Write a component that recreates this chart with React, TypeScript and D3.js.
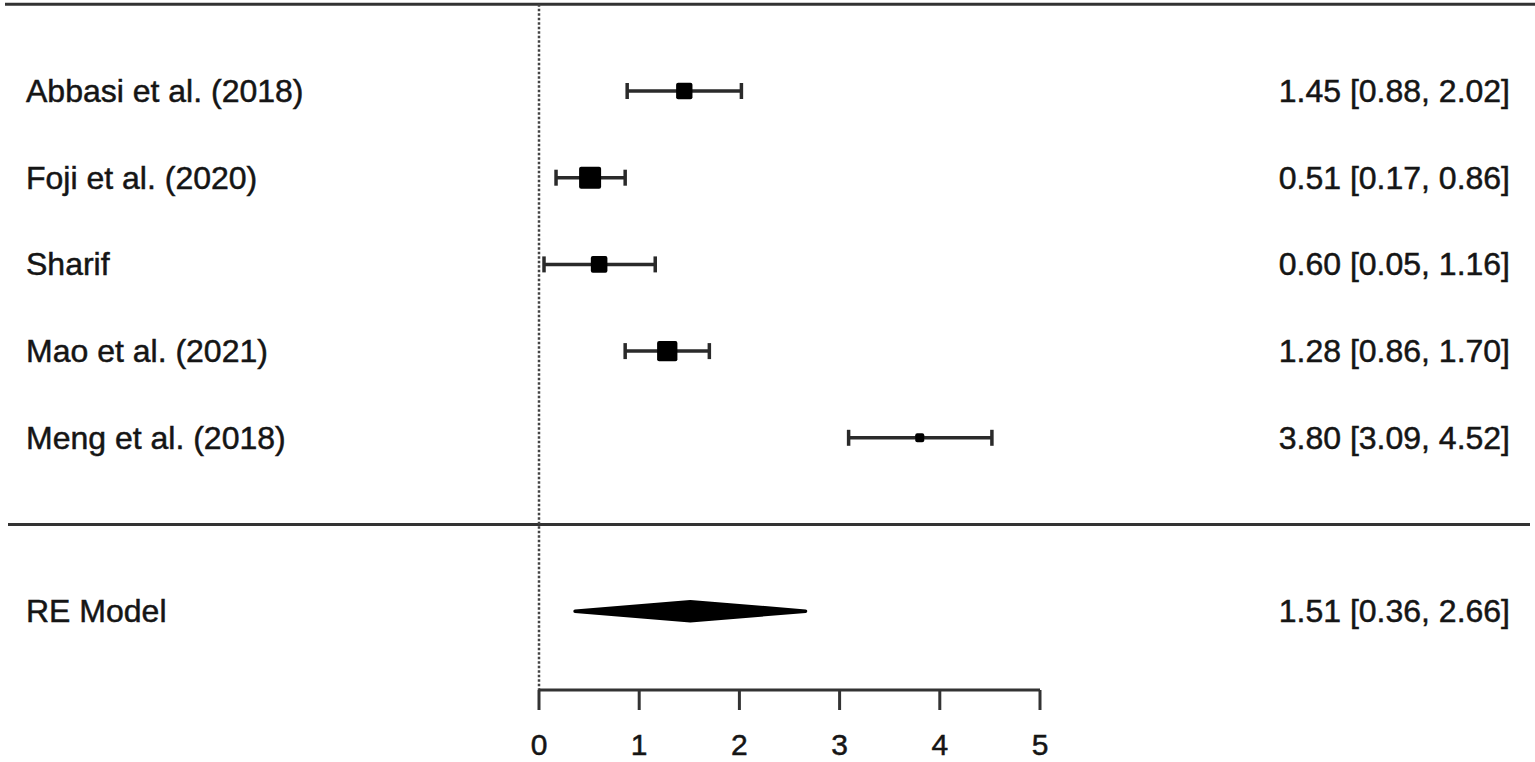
import React from "react";
import * as d3 from "d3";

const studies = ["Abbasi et al. (2018)", "Foji et al. (2020)", "Sharif", "Mao et al. (2021)", "Meng et al. (2018)"];
const estimates = [1.45, 0.51, 0.6, 1.28, 3.8];
const lowers = [0.88, 0.17, 0.05, 0.86, 3.09];
const uppers = [2.02, 0.86, 1.16, 1.7, 4.52];
const weights = [19.95, 20.45, 19.97, 20.3, 19.3];
const modelLabel = "RE Model";
const modelEstimate = 1.51;
const modelLower = 0.36;
const modelUpper = 2.66;
const xTicks = [0, 1, 2, 3, 4, 5];

const W = 1535;
const H = 762;
const FONT = "'Liberation Sans', Arial, Helvetica, sans-serif";

export default function App() {
  const k = studies.length;
  const x = d3.scaleLinear().domain([0, 5]).range([539, 1040]);
  const y = d3.scaleLinear().domain([k, 0]).range([91, 524.5]);
  const size = d3
    .scaleLinear()
    .domain([d3.min(weights) as number, d3.max(weights) as number])
    .range([9, 22]);
  const fmt = d3.format(".2f");
  const axisY = 690;
  const topY = y(k + 1);
  const sepY = y(0);
  const modelY = y(-1);
  const dh = 9.5;
  const diamond = [
    [x(modelLower), modelY],
    [x(modelEstimate), modelY - dh],
    [x(modelUpper), modelY],
    [x(modelEstimate), modelY + dh],
  ];
  const capH = 8;
  const lineColor = "#333";
  const textColor = "#151515";
  const textProps = { fontSize: 32, fill: textColor, stroke: textColor, strokeWidth: 0.5 };

  return (
    <svg
      width={W}
      height={H}
      style={{ position: "absolute", left: 0, top: 0, display: "block", background: "#fff" }}
      fontFamily={FONT}
    >
      <rect x={0} y={0} width={W} height={H} fill="#fff" />
      {/* top and separator lines */}
      <line x1={5} x2={W} y1={topY} y2={topY} stroke={lineColor} strokeWidth={3} />
      <line x1={8} x2={1530} y1={sepY} y2={sepY} stroke={lineColor} strokeWidth={3} />
      {/* reference dotted line */}
      <line
        x1={x(0)}
        x2={x(0)}
        y1={topY}
        y2={axisY}
        stroke="#444"
        strokeWidth={2.5}
        strokeDasharray="2.5 2"
      />
      {/* studies */}
      {studies.map((s, i) => {
        const yy = y(k - i);
        const sz = size(weights[i]);
        return (
          <g key={s}>
            <text x={26} y={yy + 11} {...textProps}>
              {s}
            </text>
            <line x1={x(lowers[i])} x2={x(uppers[i])} y1={yy} y2={yy} stroke="#2a2a2a" strokeWidth={3.5} />
            <line x1={x(lowers[i])} x2={x(lowers[i])} y1={yy - capH} y2={yy + capH} stroke="#2a2a2a" strokeWidth={3.5} />
            <line x1={x(uppers[i])} x2={x(uppers[i])} y1={yy - capH} y2={yy + capH} stroke="#2a2a2a" strokeWidth={3.5} />
            <rect
              x={x(estimates[i]) - sz / 2}
              y={yy - sz / 2}
              width={sz}
              height={sz}
              fill="#000"
              rx={2}
            />
            <text x={1510} y={yy + 11} textAnchor="end" {...textProps}>
              {`${fmt(estimates[i])} [${fmt(lowers[i])}, ${fmt(uppers[i])}]`}
            </text>
          </g>
        );
      })}
      {/* model */}
      <text x={26} y={modelY + 11} {...textProps}>
        {modelLabel}
      </text>
      <polygon
        points={diamond.map((p) => p.join(",")).join(" ")}
        fill="#000"
        stroke="#000"
        strokeWidth={3.5}
        strokeLinejoin="round"
      />
      <text x={1510} y={modelY + 11} textAnchor="end" {...textProps}>
        {`${fmt(modelEstimate)} [${fmt(modelLower)}, ${fmt(modelUpper)}]`}
      </text>
      {/* axis */}
      <line x1={x(0)} x2={x(5)} y1={axisY} y2={axisY} stroke={lineColor} strokeWidth={3} />
      {xTicks.map((t) => (
        <g key={t}>
          <line x1={x(t)} x2={x(t)} y1={axisY} y2={axisY + 20} stroke={lineColor} strokeWidth={3} />
          <text x={x(t)} y={axisY + 65} textAnchor="middle" {...textProps} fontSize={30}>
            {t}
          </text>
        </g>
      ))}
    </svg>
  );
}
